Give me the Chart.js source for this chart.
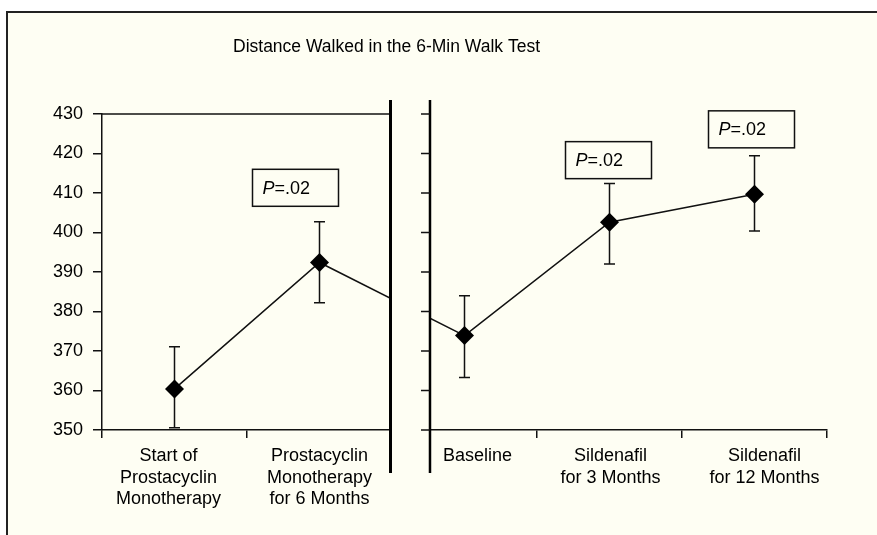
<!DOCTYPE html>
<html>
<head>
<meta charset="utf-8">
<script src="https://cdn.jsdelivr.net/npm/chart.js@4.4.1/dist/chart.umd.min.js"></script>
<style>
  html, body { margin: 0; padding: 0; background: #ffffff; overflow: hidden; }
  #frame {
    position: absolute; left: 6px; top: 11px; width: 900px; height: 560px;
    border-top: 2px solid #222; border-left: 2px solid #222;
    background: #fefef3;
  }
  #chart { position: absolute; left: 0; top: 0; }
</style>
</head>
<body>
<div id="frame"></div>
<canvas id="chart" width="877" height="535"></canvas>
<script>
// DATA
const categories = [
  ['Start of', 'Prostacyclin', 'Monotherapy'],
  ['Prostacyclin', 'Monotherapy', 'for 6 Months'],
  'Baseline',
  ['Sildenafil', 'for 3 Months'],
  ['Sildenafil', 'for 12 Months']
];
const meanDistance = [360.4, 392.4, 373.9, 402.6, 409.7];
const errUpper = [371.1, 402.7, 384.0, 412.4, 419.4];
const errLower = [350.6, 382.2, 363.3, 392.0, 400.4];
const yTicks = [350, 360, 370, 380, 390, 400, 410, 420, 430];
const pIndex = [1, 3, 4];
const pValue = ['.02', '.02', '.02'];
const titleText = 'Distance Walked in the 6-Min Walk Test';

// LAYOUT / STYLE
const FONT = '"Liberation Sans", Arial, Helvetica, sans-serif';
const INK = '#111';
const TEXT = '#000';
const CREAM = '#fefef3';
const labelShift = [-6, 0, 13, 1, 10]; // px nudge of category labels
const boxLayout = [ // left offset from point (px), top value
  { dx: -67, top: 416.0 },
  { dx: -44, top: 423.0 },
  { dx: -46, top: 430.8 }
];
const BOX_W = 86, BOX_H = 37;

const panels = {
  id: 'panels',
  beforeDatasetsDraw(chart) {
    const { ctx, scales: { x, y } } = chart;
    ctx.save();
    ctx.strokeStyle = INK;
    ctx.lineWidth = 1.5;
    meanDistance.forEach((v, i) => {
      const px = x.getPixelForValue(i);
      const top = y.getPixelForValue(errUpper[i]);
      const bot = y.getPixelForValue(errLower[i]);
      ctx.beginPath();
      ctx.moveTo(px, top); ctx.lineTo(px, bot);
      ctx.moveTo(px - 5.5, top); ctx.lineTo(px + 5.5, top);
      ctx.moveTo(px - 5.5, bot); ctx.lineTo(px + 5.5, bot);
      ctx.stroke();
    });
    ctx.restore();
  },
  afterDraw(chart) {
    const { ctx, chartArea, scales: { x, y } } = chart;
    const sepX = (x.getPixelForValue(1) + x.getPixelForValue(2)) / 2 - 1.5;
    const axisR = x.getPixelForValue(1.762);
    const yTop = chartArea.top - 14, yBot = chartArea.bottom + 43;
    ctx.save();

    // gap between the two panels
    ctx.fillStyle = CREAM;
    ctx.fillRect(sepX + 1, yTop, axisR - sepX - 2, chartArea.bottom - yTop + 12);

    // top rule of left panel
    ctx.strokeStyle = INK;
    ctx.lineWidth = 1.5;
    ctx.beginPath();
    ctx.moveTo(chartArea.left, chartArea.top);
    ctx.lineTo(sepX, chartArea.top);
    ctx.stroke();

    // thick separator
    ctx.strokeStyle = '#000';
    ctx.lineWidth = 3;
    ctx.beginPath();
    ctx.moveTo(sepX, yTop); ctx.lineTo(sepX, yBot);
    ctx.stroke();

    // right panel y axis
    ctx.lineWidth = 2.5;
    ctx.beginPath();
    ctx.moveTo(axisR, yTop); ctx.lineTo(axisR, yBot);
    ctx.stroke();
    ctx.lineWidth = 1.5;
    ctx.strokeStyle = INK;
    ctx.beginPath();
    y.ticks.forEach(t => {
      const py = y.getPixelForValue(t.value);
      ctx.moveTo(axisR - 9, py); ctx.lineTo(axisR, py);
    });
    ctx.stroke();

    // P value boxes
    ctx.textBaseline = 'middle';
    pIndex.forEach((idx, k) => {
      const bx = x.getPixelForValue(idx) + boxLayout[k].dx;
      const by = y.getPixelForValue(boxLayout[k].top);
      ctx.strokeStyle = INK;
      ctx.lineWidth = 1.5;
      ctx.strokeRect(bx, by, BOX_W, BOX_H);
      ctx.fillStyle = TEXT;
      ctx.font = 'italic 18px ' + FONT;
      ctx.textAlign = 'left';
      ctx.fillText('P', bx + 10, by + BOX_H / 2 + 1);
      const w = ctx.measureText('P').width;
      ctx.font = '18px ' + FONT;
      ctx.fillText('=' + pValue[k], bx + 10 + w, by + BOX_H / 2 + 1);
    });

    // category labels
    ctx.fillStyle = TEXT;
    ctx.font = '18px ' + FONT;
    ctx.textAlign = 'center';
    ctx.textBaseline = 'middle';
    categories.forEach((lab, i) => {
      const lines = Array.isArray(lab) ? lab : [lab];
      const px = x.getPixelForValue(i) + labelShift[i];
      lines.forEach((ln, j) => ctx.fillText(ln, px, chartArea.bottom + 26 + j * 21.6));
    });

    // title
    ctx.font = '17.5px ' + FONT;
    ctx.fillText(titleText, 386.5, 47);
    ctx.restore();
  }
};

new Chart(document.getElementById('chart'), {
  type: 'line',
  data: {
    labels: categories,
    datasets: [{
      data: meanDistance,
      borderColor: INK,
      borderWidth: 1.5,
      backgroundColor: '#000',
      pointStyle: 'rectRot',
      pointRadius: 9.5,
      pointBorderWidth: 0,
      tension: 0,
      fill: false
    }]
  },
  options: {
    responsive: false,
    animation: false,
    devicePixelRatio: 1,
    layout: { padding: { top: 114, right: 50, left: 0, bottom: 0 } },
    plugins: { legend: { display: false }, title: { display: false }, tooltip: { enabled: false } },
    scales: {
      x: {
        offset: true,
        grid: { offset: true, drawOnChartArea: false, tickLength: 8, color: INK, lineWidth: 1.5 },
        border: { color: INK, width: 1.5 },
        ticks: { display: false },
        afterFit(s) { s.height = 105; }
      },
      y: {
        min: 350,
        max: 430,
        afterBuildTicks(s) { s.ticks = yTicks.map(v => ({ value: v })); },
        grid: { drawOnChartArea: false, tickLength: 9, color: INK, lineWidth: 1.5 },
        border: { color: INK, width: 1.5 },
        ticks: { color: TEXT, font: { family: FONT, size: 18 }, padding: 10 },
        afterFit(s) { s.width = 102; }
      }
    }
  },
  plugins: [panels]
});
</script>
</body>
</html>
